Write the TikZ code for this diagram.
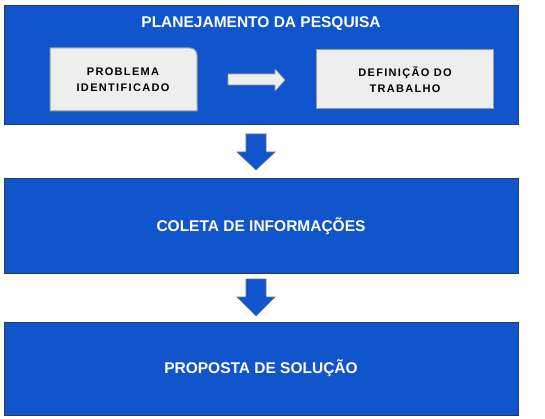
\documentclass[tikz,border=0pt]{standalone}
\usepackage{fontspec}
\setmainfont{Liberation Sans}
\usetikzlibrary{calc}
\definecolor{boxblue}{HTML}{1155CC}
\definecolor{boxedge}{HTML}{2B3A55}
\definecolor{innerfill}{HTML}{EEEEEE}
\definecolor{inneredge}{HTML}{9A9A9A}
\begin{document}
\begin{tikzpicture}[x=1pt,y=-1pt,
  bigbox/.style={draw=boxedge,line width=1pt,fill=boxblue},
  innerbox/.style={draw=inneredge,line width=1pt,fill=innerfill},
  bigtext/.style={text=white,font=\bfseries\fontsize{15.5}{18}\selectfont,align=center},
  innertext/.style={text=black,font=\bfseries\addfontfeatures{LetterSpace=12}\fontsize{11}{16}\selectfont,align=center},
  downarrow/.style={draw=boxedge!70,line width=0.6pt,fill=boxblue},
  rightarrow/.style={draw=inneredge,line width=0.6pt,fill=innerfill}]
\useasboundingbox (0,0) rectangle (545,419);
% big boxes
\path[bigbox] (4,6) rectangle (518,125);
\node[bigtext] (t1) at (261,24) {PLANEJAMENTO DA PESQUISA};
\path[bigbox] (4,179) rectangle (518,273);
\node[bigtext] (t2) at (261,226) {COLETA DE INFORMAÇÕES};
\path[bigbox] (4,322) rectangle (518,415);
\node[bigtext] (t3) at (261,368) {PROPOSTA DE SOLUÇÃO};
% inner boxes
\draw[innerbox] (50,48) -- (190,48) arc[start angle=-90,end angle=0,radius=7] -- (197,111) -- (50,111) -- cycle;
\node[innertext] (p) at (123,80) {PROBLEMA\\IDENTIFICADO};
\path[innerbox] (316,50) rectangle (493,109);
\node[innertext] (d) at (405,80) {DEFINIÇÃO DO\\TRABALHO};
% right arrow
\draw[rightarrow] (228,74) -- (275,74) -- (275,69) -- (285,80) -- (275,91) -- (275,85) -- (228,85) -- cycle;
% down arrows
\draw[downarrow] (246,134) -- (266,134) -- (266,152) -- (275,152) -- (256,170) -- (237,152) -- (246,152) -- cycle;
\draw[downarrow] (246,279) -- (266,279) -- (266,297) -- (275,297) -- (256,316) -- (237,297) -- (246,297) -- cycle;
\end{tikzpicture}
\end{document}
